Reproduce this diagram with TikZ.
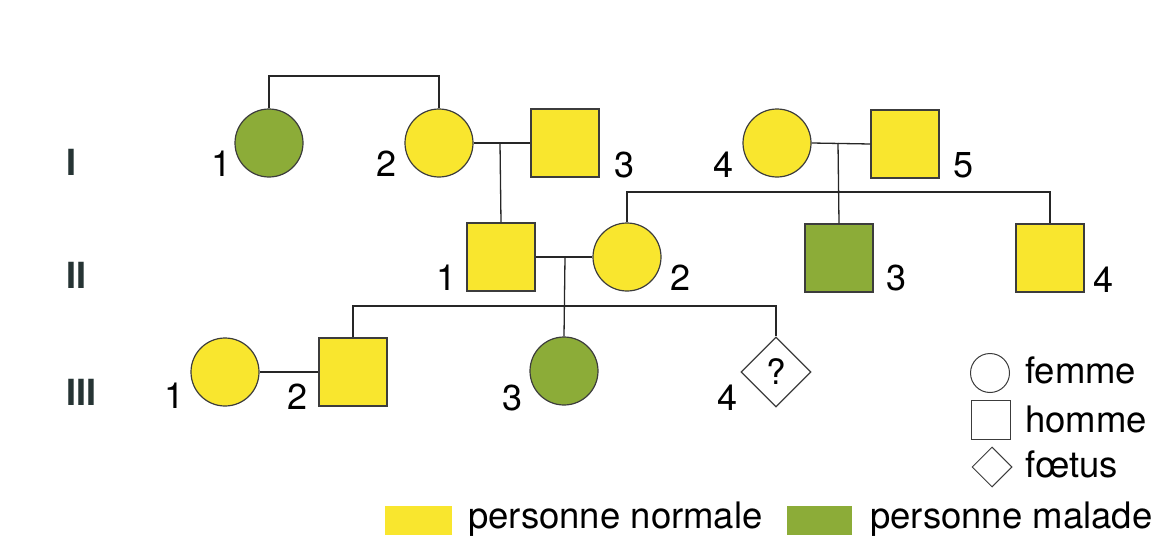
\documentclass[tikz,border=0pt]{standalone}
\usepackage{fontspec}
\setmainfont{TeX Gyre Heros}
\usetikzlibrary{shapes.geometric}
\definecolor{yel}{RGB}{249,230,46}
\definecolor{grn}{RGB}{140,172,56}
\definecolor{edge}{RGB}{60,60,60}
\definecolor{genc}{RGB}{38,52,52}
\tikzset{
  sym/.style={draw=edge, line width=1.2pt, inner sep=0pt},
  fem/.style={sym, circle, minimum size=68pt},
  male/.style={sym, rectangle, minimum size=68pt},
  fetus/.style={sym, diamond, minimum width=70pt, minimum height=70pt, aspect=1},
  normal/.style={fill=yel},
  sick/.style={fill=grn},
  conn/.style={draw=black!85, line width=1.3pt},
  num/.style={inner sep=0pt, anchor=base, font=\fontsize{36}{40}\selectfont},
  gen/.style={inner sep=0pt, anchor=base west, text=genc, font=\fontsize{36}{40}\selectfont\bfseries},
  legsym/.style={sym, line width=1pt},
  legtxt/.style={inner sep=0pt, anchor=base west, font=\fontsize{36.5}{40}\selectfont},
}
\begin{document}
\begin{tikzpicture}[x=1pt, y=-1pt]
\useasboundingbox (0,0) rectangle (1155,543);
% generation labels
\node[gen] (gI) at (66,175) {I};
\node[gen] (gII) at (66,288) {II};
\node[gen] (gIII) at (66,405) {III};
% generation I
\node[fem, sick] (I1) at (269,143) {};
\node[fem, normal] (I2) at (439,143) {};
\node[male, normal] (I3) at (565,143) {};
\node[fem, normal] (I4) at (777,143) {};
\node[male, normal] (I5) at (905,144) {};
% generation II
\node[male, normal] (II1) at (501,257) {};
\node[fem, normal] (II2) at (627,257) {};
\node[male, sick] (II3) at (839,258) {};
\node[male, normal] (II4) at (1050,258) {};
% generation III
\node[fem, normal] (III1) at (225,372) {};
\node[male, normal] (III2) at (353,372) {};
\node[fem, sick] (III3) at (564,371) {};
\node[fetus, font=\fontsize{35}{40}\selectfont] (III4) at (776,372) {?};
% helper coordinates
\coordinate (top) at (354,76);
\coordinate (m1) at (500,143);
\coordinate (m2) at (838,143);
\coordinate (s2) at (838,192);
\coordinate (m3) at (565,257);
\coordinate (s3) at (565,306);
% connectors
\draw[conn] (I1.north) |- (top) -| (I2.north);
\draw[conn] (I2.east) -- (I3.west);
\draw[conn] (m1) -- (II1.north);
\draw[conn] (I4.east) -- (I5.west);
\draw[conn] (m2) -- (II3.north);
\draw[conn] (II2.north) |- (s2) -| (II4.north);
\draw[conn] (II1.east) -- (II2.west);
\draw[conn] (m3) -- (III3.north);
\draw[conn] (III2.north) |- (s3) -| (III4.north);
\draw[conn] (III1.east) -- (III2.west);
% numbers
\node[num] (nI1) at (222,176) {1};
\node[num] (nI2) at (387,176) {2};
\node[num] (nI3) at (624,177) {3};
\node[num] (nI4) at (723,177) {4};
\node[num] (nI5) at (963,177) {5};
\node[num] (nII1) at (447,290) {1};
\node[num] (nII2) at (680,290) {2};
\node[num] (nII3) at (896,290) {3};
\node[num] (nII4) at (1103,292) {4};
\node[num] (nIII1) at (175,408) {1};
\node[num] (nIII2) at (298,409) {2};
\node[num] (nIII3) at (512,410) {3};
\node[num] (nIII4) at (727,410) {4};
% legend
\node[legsym, circle, minimum size=39pt] (Lf) at (990,373) {};
\node[legsym, rectangle, minimum size=39pt] (Lh) at (991,420) {};
\node[legsym, diamond, minimum width=40pt, minimum height=40pt, aspect=1] (Ld) at (992,467) {};
\node[legtxt] (tf) at (1025,383) {femme};
\node[legtxt] (th) at (1025,432) {homme};
\node[legtxt] (td) at (1025,477) {fœtus};
\node[inner sep=0pt, fill=yel, minimum width=67pt, minimum height=29pt] (Ly) at (418.5,520.5) {};
\node[legtxt] (ty) at (468,528) {personne normale};
\node[inner sep=0pt, fill=grn, minimum width=65pt, minimum height=29pt] (Lg) at (819.5,520.5) {};
\node[legtxt] (tg) at (870,528) {personne malade};
\end{tikzpicture}
\end{document}
